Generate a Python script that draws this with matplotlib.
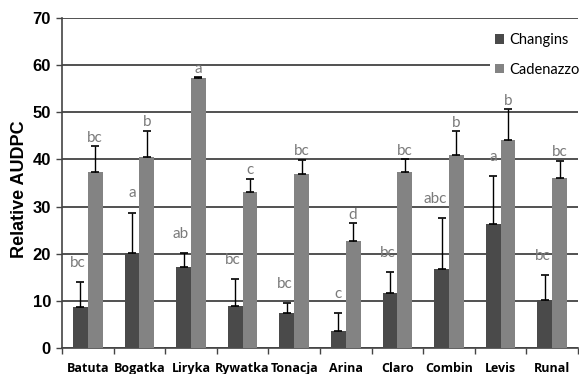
import matplotlib
matplotlib.use("Agg")
import matplotlib.pyplot as plt
from matplotlib.patches import Patch
import numpy as np

varieties = ["Batuta", "Bogatka", "Liryka", "Rywatka", "Tonacja",
             "Arina", "Claro", "Combin", "Levis", "Runal"]
changins = [8.8, 20.2, 17.1, 8.9, 7.5, 3.6, 11.6, 16.7, 26.4, 10.2]
changins_err = [5.1, 8.5, 3.1, 5.7, 2.0, 3.8, 4.5, 10.8, 10.1, 5.3]
changins_letters = ["bc", "a", "ab", "bc", "bc", "c", "bc", "abc", "a", "bc"]
cadenazzo = [37.4, 40.6, 57.3, 33.0, 36.9, 22.6, 37.3, 40.9, 44.1, 36.1]
cadenazzo_err = [5.4, 5.5, 0.1, 2.9, 3.0, 3.9, 2.7, 5.1, 6.5, 3.6]
cadenazzo_letters = ["bc", "b", "a", "c", "bc", "d", "bc", "b", "b", "bc"]
y_ticks = [0, 10, 20, 30, 40, 50, 60, 70]

c1 = "#4a4a4a"
c2 = "#838383"
letter_color = "#7a7a7a"

fig = plt.figure(figsize=(5.79, 3.74), dpi=100)
ax = fig.add_axes([62/579, 1-348/374, 516/579, 330/374])

x = np.arange(len(varieties))
w = 0.285
ax.bar(x - w/2, changins, w, color=c1, zorder=3)
ax.bar(x + w/2, cadenazzo, w, color=c2, zorder=3)
ax.errorbar(x - w/2, changins, yerr=[np.zeros(len(x)), changins_err],
            fmt="none", ecolor="black", elinewidth=1, capsize=3, capthick=1.2, zorder=4)
ax.errorbar(x + w/2, cadenazzo, yerr=[np.zeros(len(x)), cadenazzo_err],
            fmt="none", ecolor="black", elinewidth=1, capsize=3, capthick=1.2, zorder=4)

ax.set_xlim(-0.5, len(x) - 0.5)
ax.set_ylim(0, 70)

ch_texts = []
for i in range(len(x)):
    t = ax.text(x[i] - w/2, changins[i] + changins_err[i] + 2.6, changins_letters[i],
                ha="center", va="bottom", color=letter_color, fontsize=11,
                family="Lato", zorder=5)
    ch_texts.append(t)
    ax.text(x[i] + w/2, cadenazzo[i] + cadenazzo_err[i] + 0.3, cadenazzo_letters[i],
            ha="center", va="bottom", color=letter_color, fontsize=11,
            family="Lato", zorder=5)

ax.set_yticks(y_ticks)
ax.set_yticklabels([str(t) for t in y_ticks], fontsize=12, fontweight="bold",
                   family="Liberation Sans")
ax.yaxis.grid(True, color="#222222", linewidth=1.1, zorder=0)
ax.set_axisbelow(True)

ax.set_xticks(x)
ax.set_xticklabels(varieties, fontsize=9, fontweight="bold", family="Open Sans")
ax.set_xticks(np.arange(len(x) + 1) - 0.5, minor=True)
ax.tick_params(axis="x", which="major", length=0, pad=10)
ax.tick_params(axis="x", which="minor", length=4, width=1, color="#444444")
ax.tick_params(axis="y", length=4, width=1, color="#444444", pad=4)

for s in ["top", "right"]:
    ax.spines[s].set_visible(False)
ax.spines["left"].set_color("#444444")
ax.spines["bottom"].set_color("#444444")
ax.spines["left"].set_linewidth(1.2)
ax.spines["bottom"].set_linewidth(1.2)

ax.set_ylabel("Relative AUDPC", fontsize=13, fontweight="bold",
              family="Liberation Sans", labelpad=0)
ax.yaxis.set_label_coords(-0.065, 0.48)

handles = [Patch(facecolor=c1, label="Changins"),
           Patch(facecolor=c2, label="Cadenazzo")]
leg = fig.legend(handles=handles, loc="upper right", bbox_to_anchor=(584/579, 1-29/374),
                 frameon=True, edgecolor="none", facecolor="white", framealpha=1,
                 fancybox=False, prop={"family": "Lato", "size": 10.5},
                 handlelength=0.65, handleheight=0.65, handletextpad=0.35,
                 labelspacing=1.05, borderpad=0.3, borderaxespad=0)
leg.set_zorder(6)

# keep Changins letters clear of the neighbouring Cadenazzo bar
fig.canvas.draw()
renderer = fig.canvas.get_renderer()
px_per_unit = ax.transData.transform((1, 0))[0] - ax.transData.transform((0, 0))[0]
for i, t in enumerate(ch_texts):
    bb = t.get_window_extent(renderer)
    limit = ax.transData.transform((x[i], 0))[0] - 2
    if bb.x1 > limit:
        xpos, ypos = t.get_position()
        t.set_position((xpos - (bb.x1 - limit) / px_per_unit, ypos))

fig.savefig("out.png", dpi=100)
